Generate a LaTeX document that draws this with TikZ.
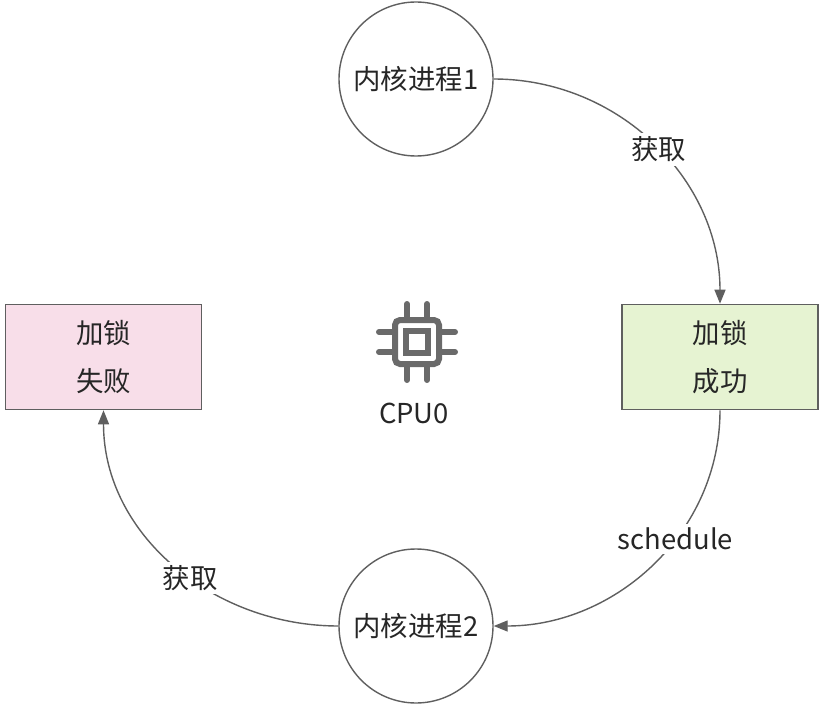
\documentclass[tikz,border=0pt]{standalone}
\usepackage{fontspec}
\setmainfont{Noto Sans CJK SC}
\usepackage{tikz}
\usetikzlibrary{arrows.meta}
\definecolor{linegray}{HTML}{5F5F5F}
\definecolor{icongray}{HTML}{6A6A6A}
\definecolor{textdark}{HTML}{262626}
\definecolor{okgreen}{HTML}{E6F3D2}
\definecolor{failpink}{HTML}{F8DEE9}
\tikzset{
  proc/.style={circle, draw=linegray, line width=0.8pt, minimum size=3.08cm, inner sep=0pt, text=textdark, font=\fontsize{15.6}{27}\selectfont},
  lockbox/.style={rectangle, draw=linegray, line width=0.9pt, minimum width=3.92cm, minimum height=2.1cm, align=center, text=textdark, font=\fontsize{15.6}{27}\selectfont},
  flow/.style={draw=linegray, line width=0.8pt, -{Triangle[length=0.28cm, width=0.22cm]}},
  lbl/.style={fill=white, inner sep=2pt, text=textdark, font=\fontsize{15.6}{18}\selectfont},
  cpuline/.style={draw=icongray, line width=0.12cm}
}
\begin{document}
\begin{tikzpicture}
\useasboundingbox (0,0) rectangle (16.52,14.08);
\node[proc] (p1) at (8.32,12.5) {内核进程1};
\node[proc] (p2) at (8.32,1.56) {内核进程2};
\node[lockbox, fill=okgreen] (ok) at (14.4,6.94) {加锁\\成功};
\node[lockbox, fill=failpink] (fail) at (2.07,6.94) {加锁\\失败};

\coordinate (cpu) at (8.34,7.24);
\draw[cpuline, rounded corners=0.1cm] ([shift={(-0.44,-0.44)}]cpu) rectangle ([shift={(0.44,0.44)}]cpu);
\draw[cpuline] ([shift={(-0.22,-0.22)}]cpu) rectangle ([shift={(0.22,0.22)}]cpu);
\foreach \d in {-0.2,0.2}{
  \draw[cpuline, line cap=round] ([shift={(\d,0.5)}]cpu) -- ([shift={(\d,0.76)}]cpu);
  \draw[cpuline, line cap=round] ([shift={(\d,-0.5)}]cpu) -- ([shift={(\d,-0.76)}]cpu);
  \draw[cpuline, line cap=round] ([shift={(0.5,\d)}]cpu) -- ([shift={(0.76,\d)}]cpu);
  \draw[cpuline, line cap=round] ([shift={(-0.5,\d)}]cpu) -- ([shift={(-0.76,\d)}]cpu);
}
\node[text=textdark, font=\fontsize{15.6}{18}\selectfont] (cpulabel) at (8.28,5.82) {CPU0};

\draw[flow] (p1.east) to[out=0, in=90] node[lbl, pos=0.52] (get1) {获取} (ok.north);
\draw[flow] (ok.south) to[out=-90, in=0] node[lbl, pos=0.4] (sched) {schedule} (p2.east);
\draw[flow] (p2.west) to[out=180, in=-90] node[lbl, pos=0.44] (get2) {获取} (fail.south);
\end{tikzpicture}
\end{document}
